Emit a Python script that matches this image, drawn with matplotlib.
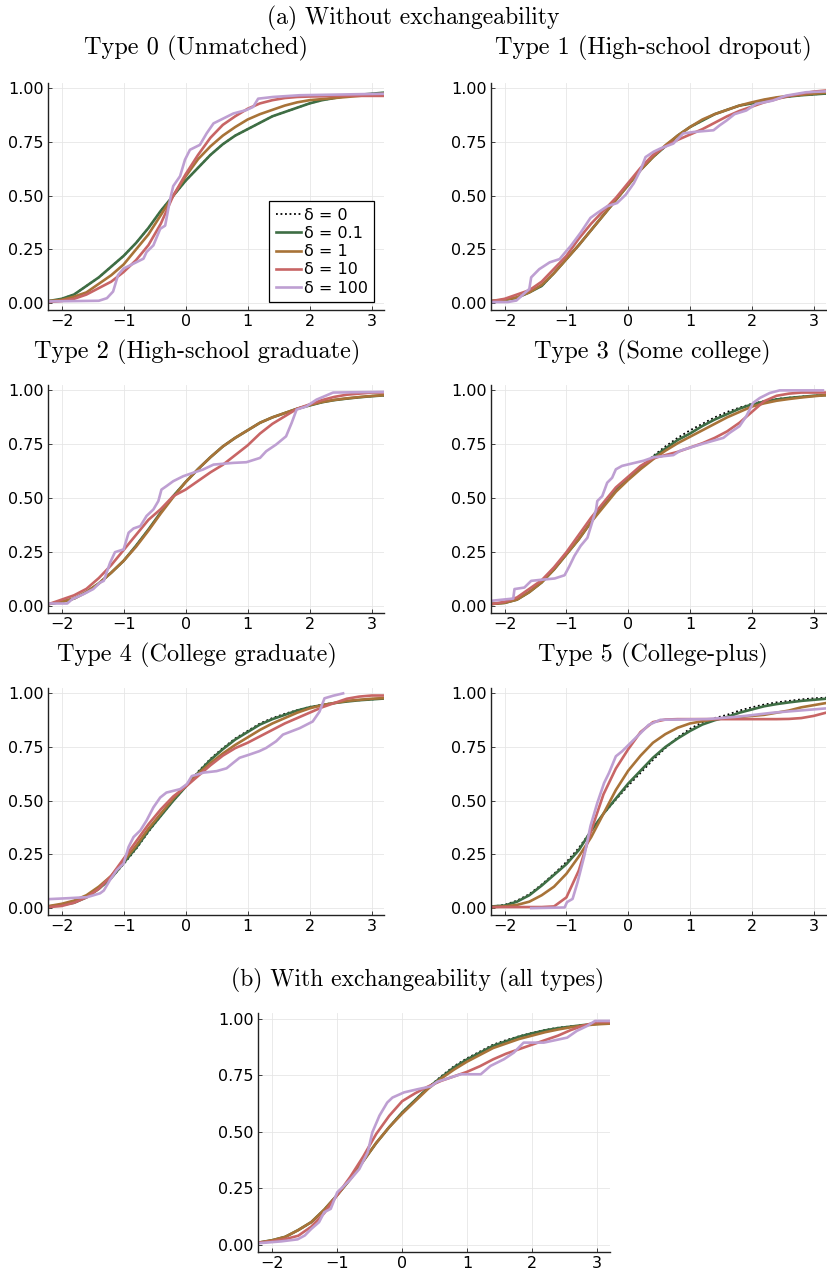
import matplotlib
matplotlib.use("Agg")
import matplotlib.pyplot as plt

# common x grid for the smooth curves
X = [-2.2, -2.0, -1.8, -1.6, -1.4, -1.2, -1.0, -0.8, -0.6, -0.4, -0.2, 0.0, 0.2, 0.4,
     0.6, 0.8, 1.0, 1.2, 1.4, 1.6, 1.8, 2.0, 2.2, 2.4, 2.6, 2.8, 3.0, 3.2]

labels = ["δ = 0", "δ = 0.1", "δ = 1", "δ = 10", "δ = 100"]
colors = ["black", "#3e6e44", "#a87338", "#c86565", "#be9fd2"]

titles = ["Type 0 (Unmatched)", "Type 1 (High-school dropout)",
          "Type 2 (High-school graduate)", "Type 3 (Some college)",
          "Type 4 (College graduate)", "Type 5 (College-plus)"]

# ---- Type 0
t0_d0 = [0.01, 0.02, 0.04, 0.08, 0.12, 0.17, 0.22, 0.28, 0.35, 0.43, 0.50, 0.57, 0.63, 0.69,
         0.74, 0.78, 0.81, 0.84, 0.87, 0.89, 0.91, 0.93, 0.945, 0.955, 0.965, 0.97, 0.975, 0.98]
t0_d01 = [0.01, 0.02, 0.04, 0.08, 0.12, 0.17, 0.22, 0.28, 0.35, 0.43, 0.50, 0.57, 0.63, 0.69,
          0.74, 0.78, 0.81, 0.84, 0.87, 0.89, 0.91, 0.93, 0.945, 0.955, 0.965, 0.97, 0.975, 0.98]
t0_d1 = [0.01, 0.015, 0.03, 0.05, 0.09, 0.13, 0.18, 0.25, 0.32, 0.41, 0.50, 0.59, 0.67, 0.73,
         0.78, 0.82, 0.855, 0.88, 0.90, 0.92, 0.935, 0.945, 0.95, 0.955, 0.96, 0.965, 0.97, 0.975]
t0_d10 = [0.005, 0.01, 0.02, 0.04, 0.07, 0.10, 0.145, 0.20, 0.27, 0.37, 0.50, 0.60, 0.69, 0.77,
          0.83, 0.87, 0.905, 0.93, 0.945, 0.955, 0.96, 0.962, 0.963, 0.965, 0.965, 0.965, 0.965, 0.965]
t0_d100_x = [-2.2, -1.4, -1.27, -1.17, -1.09, -1.0, -0.84, -0.68, -0.63, -0.52, -0.41, -0.33,
             -0.25, -0.2, -0.09, -0.01, 0.07, 0.23, 0.34, 0.45, 0.61, 0.77, 0.98, 1.09, 1.17,
             1.41, 1.84, 3.2]
t0_d100_y = [0.008, 0.011, 0.023, 0.054, 0.131, 0.161, 0.184, 0.207, 0.238, 0.269, 0.346, 0.361,
             0.484, 0.545, 0.591, 0.668, 0.714, 0.737, 0.791, 0.837, 0.860, 0.883, 0.899, 0.914,
             0.952, 0.960, 0.968, 0.975]

# ---- Type 1
t1_d0 = [0.01, 0.015, 0.025, 0.05, 0.08, 0.14, 0.205, 0.27, 0.34, 0.41, 0.48, 0.55, 0.62, 0.68,
         0.73, 0.78, 0.82, 0.85, 0.88, 0.90, 0.92, 0.93, 0.945, 0.955, 0.962, 0.968, 0.972, 0.976]
t1_d01 = [0.01, 0.015, 0.025, 0.05, 0.08, 0.14, 0.205, 0.27, 0.34, 0.41, 0.48, 0.55, 0.62, 0.68,
          0.73, 0.78, 0.82, 0.85, 0.88, 0.90, 0.92, 0.93, 0.945, 0.955, 0.962, 0.968, 0.972, 0.976]
t1_d1 = [0.01, 0.015, 0.027, 0.05, 0.085, 0.14, 0.205, 0.27, 0.34, 0.41, 0.48, 0.55, 0.62, 0.68,
         0.735, 0.78, 0.82, 0.855, 0.88, 0.90, 0.92, 0.935, 0.948, 0.958, 0.965, 0.97, 0.975, 0.98]
t1_d10 = [0.01, 0.02, 0.04, 0.06, 0.10, 0.16, 0.22, 0.30, 0.37, 0.43, 0.49, 0.56, 0.63, 0.69,
          0.73, 0.76, 0.785, 0.81, 0.84, 0.87, 0.895, 0.915, 0.935, 0.95, 0.965, 0.975, 0.985, 0.99]
t1_d100_x = [-2.2, -1.95, -1.81, -1.6, -1.57, -1.44, -1.27, -1.11, -1.0, -0.93, -0.77, -0.61,
             -0.5, -0.34, -0.18, -0.04, 0.09, 0.2, 0.28, 0.41, 0.52, 0.73, 0.89, 1.06, 1.38,
             1.48, 1.59, 1.72, 1.91, 2.07, 2.34, 2.55, 2.88, 3.2]
t1_d100_y = [0.005, 0.005, 0.012, 0.066, 0.12, 0.158, 0.19, 0.205, 0.243, 0.266, 0.328, 0.397,
             0.42, 0.451, 0.466, 0.505, 0.558, 0.62, 0.68, 0.705, 0.72, 0.743, 0.79, 0.797,
             0.805, 0.828, 0.85, 0.88, 0.897, 0.928, 0.943, 0.966, 0.982, 0.986]

# ---- Type 2
t2_d0 = [0.01, 0.02, 0.035, 0.065, 0.105, 0.155, 0.21, 0.28, 0.355, 0.435, 0.51, 0.575, 0.635, 0.69,
         0.74, 0.78, 0.815, 0.85, 0.875, 0.895, 0.915, 0.93, 0.945, 0.955, 0.962, 0.968, 0.973, 0.977]
t2_d01 = [0.01, 0.02, 0.035, 0.065, 0.105, 0.155, 0.21, 0.28, 0.355, 0.435, 0.51, 0.575, 0.635, 0.69,
          0.74, 0.78, 0.815, 0.85, 0.875, 0.895, 0.915, 0.93, 0.945, 0.955, 0.962, 0.968, 0.973, 0.977]
t2_d1 = [0.01, 0.02, 0.035, 0.065, 0.105, 0.155, 0.21, 0.275, 0.35, 0.43, 0.505, 0.575, 0.635, 0.69,
         0.74, 0.78, 0.815, 0.85, 0.875, 0.895, 0.915, 0.932, 0.946, 0.956, 0.963, 0.969, 0.974, 0.978]
t2_d10 = [0.01, 0.03, 0.05, 0.08, 0.13, 0.19, 0.26, 0.33, 0.40, 0.45, 0.51, 0.54, 0.58, 0.62,
          0.655, 0.70, 0.745, 0.80, 0.845, 0.88, 0.915, 0.935, 0.955, 0.97, 0.98, 0.985, 0.99, 0.99]
t2_d100_x = [-2.2, -1.91, -1.83, -1.65, -1.49, -1.38, -1.32, -1.22, -1.14, -1.0, -0.92, -0.84,
             -0.73, -0.63, -0.52, -0.44, -0.39, -0.31, -0.2, -0.04, 0.12, 0.28, 0.45, 0.77,
             0.98, 1.2, 1.3, 1.46, 1.62, 1.71, 1.79, 1.95, 2.11, 2.38, 3.2]
t2_d100_y = [0.012, 0.012, 0.032, 0.055, 0.079, 0.109, 0.117, 0.2, 0.25, 0.263, 0.34, 0.36,
             0.371, 0.418, 0.448, 0.487, 0.54, 0.556, 0.579, 0.602, 0.618, 0.633, 0.656, 0.664,
             0.667, 0.687, 0.718, 0.749, 0.787, 0.849, 0.911, 0.926, 0.957, 0.99, 0.993]

# ---- Type 3
t3_d0 = [0.01, 0.015, 0.03, 0.065, 0.11, 0.17, 0.24, 0.31, 0.39, 0.47, 0.54, 0.59, 0.645, 0.695,
         0.74, 0.78, 0.815, 0.845, 0.875, 0.90, 0.92, 0.938, 0.95, 0.96, 0.966, 0.971, 0.975, 0.978]
t3_d01 = [0.01, 0.015, 0.03, 0.065, 0.11, 0.17, 0.24, 0.31, 0.39, 0.47, 0.54, 0.59, 0.64, 0.69,
          0.73, 0.77, 0.80, 0.835, 0.865, 0.89, 0.915, 0.935, 0.948, 0.958, 0.965, 0.97, 0.975, 0.978]
t3_d1 = [0.01, 0.015, 0.03, 0.065, 0.11, 0.17, 0.24, 0.31, 0.39, 0.46, 0.53, 0.585, 0.635, 0.68,
         0.72, 0.755, 0.785, 0.815, 0.845, 0.875, 0.90, 0.925, 0.94, 0.952, 0.96, 0.967, 0.973, 0.978]
t3_d10 = [0.01, 0.02, 0.04, 0.08, 0.12, 0.18, 0.25, 0.33, 0.41, 0.48, 0.55, 0.60, 0.65, 0.685,
          0.70, 0.715, 0.735, 0.755, 0.78, 0.81, 0.85, 0.90, 0.95, 0.975, 0.985, 0.99, 0.99, 0.99]
t3_d100_x = [-2.2, -1.86, -1.84, -1.68, -1.57, -1.41, -1.19, -1.03, -0.95, -0.87, -0.77, -0.66,
             -0.52, -0.5, -0.42, -0.34, -0.26, -0.2, -0.1, 0.06, 0.25, 0.41, 0.73, 0.84, 1.06,
             1.27, 1.54, 1.64, 1.8, 1.91, 2.02, 2.13, 2.29, 2.45, 3.15]
t3_d100_y = [0.025, 0.035, 0.079, 0.086, 0.117, 0.122, 0.128, 0.143, 0.186, 0.233, 0.279, 0.317,
             0.448, 0.487, 0.51, 0.572, 0.595, 0.634, 0.65, 0.661, 0.674, 0.69, 0.70, 0.72, 0.74,
             0.758, 0.78, 0.803, 0.834, 0.88, 0.942, 0.965, 0.988, 1.0, 1.0]

# ---- Type 4
t4_d0 = [0.008, 0.015, 0.025, 0.05, 0.09, 0.14, 0.205, 0.275, 0.355, 0.43, 0.50, 0.565, 0.635, 0.695,
         0.745, 0.79, 0.825, 0.86, 0.885, 0.905, 0.922, 0.937, 0.947, 0.956, 0.963, 0.968, 0.972, 0.976]
t4_d01 = [0.008, 0.015, 0.025, 0.05, 0.09, 0.14, 0.21, 0.28, 0.36, 0.43, 0.50, 0.565, 0.63, 0.69,
          0.74, 0.785, 0.82, 0.855, 0.88, 0.90, 0.92, 0.935, 0.945, 0.955, 0.962, 0.968, 0.972, 0.976]
t4_d1 = [0.01, 0.02, 0.035, 0.06, 0.10, 0.15, 0.22, 0.29, 0.37, 0.44, 0.51, 0.57, 0.625, 0.675,
         0.72, 0.76, 0.795, 0.83, 0.86, 0.885, 0.91, 0.93, 0.945, 0.955, 0.965, 0.97, 0.975, 0.978]
t4_d10 = [0.005, 0.01, 0.025, 0.05, 0.09, 0.15, 0.23, 0.31, 0.39, 0.46, 0.52, 0.565, 0.615, 0.665,
          0.71, 0.745, 0.77, 0.80, 0.83, 0.86, 0.885, 0.91, 0.935, 0.955, 0.975, 0.985, 0.99, 0.99]
t4_d100_x = [-2.2, -1.91, -1.59, -1.38, -1.32, -1.22, -1.11, -1.0, -0.92, -0.84, -0.73, -0.63,
             -0.52, -0.41, -0.31, -0.09, 0.02, 0.1, 0.29, 0.5, 0.66, 0.77, 0.87, 1.03, 1.19, 1.3,
             1.46, 1.57, 1.84, 2.05, 2.16, 2.24, 2.38, 2.54]
t4_d100_y = [0.042, 0.046, 0.051, 0.069, 0.082, 0.131, 0.177, 0.208, 0.285, 0.331, 0.362, 0.408,
             0.469, 0.515, 0.538, 0.554, 0.577, 0.615, 0.631, 0.638, 0.651, 0.677, 0.70, 0.715,
             0.731, 0.746, 0.777, 0.808, 0.838, 0.869, 0.915, 0.977, 0.989, 1.0]

# ---- Type 5
t5_d0 = [0.008, 0.015, 0.035, 0.065, 0.11, 0.16, 0.215, 0.28, 0.36, 0.44, 0.505, 0.57, 0.63, 0.69,
         0.745, 0.795, 0.835, 0.865, 0.885, 0.90, 0.92, 0.935, 0.948, 0.958, 0.965, 0.972, 0.977, 0.98]
t5_d01 = [0.008, 0.012, 0.03, 0.06, 0.105, 0.155, 0.205, 0.27, 0.36, 0.44, 0.51, 0.58, 0.64, 0.70,
          0.75, 0.79, 0.825, 0.855, 0.875, 0.89, 0.91, 0.925, 0.94, 0.95, 0.958, 0.965, 0.97, 0.975]
t5_d1 = [0.005, 0.008, 0.015, 0.03, 0.06, 0.10, 0.16, 0.24, 0.33, 0.44, 0.55, 0.64, 0.71, 0.77,
         0.81, 0.84, 0.86, 0.87, 0.88, 0.885, 0.89, 0.895, 0.90, 0.91, 0.92, 0.935, 0.945, 0.955]
t5_d10 = [0.005, 0.005, 0.005, 0.005, 0.005, 0.008, 0.05, 0.175, 0.36, 0.53, 0.65, 0.74, 0.82, 0.866,
          0.878, 0.88, 0.88, 0.88, 0.88, 0.88, 0.88, 0.88, 0.88, 0.88, 0.881, 0.885, 0.895, 0.91]
t5_d100_x = [-1.57, -1.03, -0.99, -0.9, -0.82, -0.71, -0.61, -0.5, -0.39, -0.31, -0.2, -0.1,
             0.09, 0.2, 0.33, 0.52, 1.27, 1.8, 2.34, 3.2]
t5_d100_y = [0.0, 0.003, 0.028, 0.043, 0.12, 0.244, 0.383, 0.49, 0.583, 0.63, 0.707, 0.73,
             0.784, 0.815, 0.853, 0.877, 0.88, 0.892, 0.91, 0.93]

# ---- all types, with exchangeability
ex_d0 = [0.01, 0.02, 0.035, 0.065, 0.10, 0.155, 0.22, 0.29, 0.37, 0.45, 0.52, 0.585, 0.64, 0.695,
         0.745, 0.79, 0.825, 0.855, 0.885, 0.905, 0.922, 0.937, 0.95, 0.96, 0.966, 0.972, 0.977, 0.98]
ex_d01 = [0.01, 0.02, 0.035, 0.065, 0.10, 0.155, 0.22, 0.29, 0.37, 0.45, 0.52, 0.585, 0.64, 0.695,
          0.74, 0.785, 0.82, 0.85, 0.88, 0.90, 0.92, 0.935, 0.948, 0.958, 0.965, 0.972, 0.977, 0.98]
ex_d1 = [0.01, 0.02, 0.035, 0.065, 0.10, 0.155, 0.22, 0.29, 0.37, 0.45, 0.52, 0.58, 0.635, 0.69,
         0.735, 0.775, 0.81, 0.84, 0.87, 0.89, 0.91, 0.925, 0.94, 0.952, 0.962, 0.97, 0.975, 0.978]
ex_d10 = [0.01, 0.015, 0.025, 0.04, 0.08, 0.14, 0.22, 0.30, 0.39, 0.49, 0.57, 0.635, 0.67, 0.70,
          0.725, 0.745, 0.765, 0.79, 0.82, 0.845, 0.865, 0.885, 0.905, 0.925, 0.95, 0.97, 0.985, 0.985]
ex_d100_x = [-2.2, -1.86, -1.61, -1.5, -1.4, -1.28, -1.2, -1.1, -1.0, -0.89, -0.79, -0.66, -0.53,
             -0.46, -0.35, -0.23, -0.15, 0.03, 0.24, 0.44, 0.54, 0.75, 0.9, 1.21, 1.36, 1.57,
             1.72, 1.87, 2.18, 2.54, 2.69, 2.85, 2.97, 3.2]
ex_d100_y = [0.007, 0.015, 0.024, 0.041, 0.07, 0.10, 0.144, 0.159, 0.232, 0.262, 0.291, 0.335,
             0.409, 0.497, 0.571, 0.629, 0.651, 0.674, 0.688, 0.70, 0.721, 0.74, 0.754, 0.754,
             0.791, 0.821, 0.85, 0.894, 0.894, 0.916, 0.946, 0.968, 0.99, 0.99]

panels = [
    (t0_d0, t0_d01, t0_d1, t0_d10, t0_d100_x, t0_d100_y),
    (t1_d0, t1_d01, t1_d1, t1_d10, t1_d100_x, t1_d100_y),
    (t2_d0, t2_d01, t2_d1, t2_d10, t2_d100_x, t2_d100_y),
    (t3_d0, t3_d01, t3_d1, t3_d10, t3_d100_x, t3_d100_y),
    (t4_d0, t4_d01, t4_d1, t4_d10, t4_d100_x, t4_d100_y),
    (t5_d0, t5_d01, t5_d1, t5_d10, t5_d100_x, t5_d100_y),
    (ex_d0, ex_d01, ex_d1, ex_d10, ex_d100_x, ex_d100_y),
]

W, H = 827, 1275
fig = plt.figure(figsize=(W / 100, H / 100), dpi=100)


def px_axes(x0, y0, x1, y1):
    # pixel box (left, top, right, bottom) -> figure axes
    return fig.add_axes([x0 / W, 1 - y1 / H, (x1 - x0) / W, (y1 - y0) / H])


def draw(ax, data):
    d0, d01, d1, d10, d100x, d100y = data
    ax.plot(X, d0, color=colors[0], ls=(0, (1, 1.5)), lw=1.3, label=labels[0])
    ax.plot(X, d01, color=colors[1], lw=1.9, label=labels[1])
    ax.plot(X, d1, color=colors[2], lw=1.9, label=labels[2])
    ax.plot(X, d10, color=colors[3], lw=1.9, label=labels[3])
    ax.plot(d100x, d100y, color=colors[4], lw=1.9, label=labels[4])
    ax.set_xlim(-2.22, 3.2)
    ax.set_ylim(-0.032, 1.025)
    ax.set_xticks([-2, -1, 0, 1, 2, 3])
    ax.set_yticks([0, 0.25, 0.5, 0.75, 1.0])
    ax.set_yticklabels(["0.00", "0.25", "0.50", "0.75", "1.00"])
    ax.grid(True, color="#e6e6e6", lw=0.6)
    ax.set_axisbelow(True)
    for s in ["top", "right"]:
        ax.spines[s].set_visible(False)
    for s in ["left", "bottom"]:
        ax.spines[s].set_color("#222222")
        ax.spines[s].set_linewidth(1.0)
    ax.tick_params(direction="in", length=3, width=0.6, labelsize=11.5, pad=3, colors="#222222",
                   labelcolor="black")


boxes = [(48, 83, 384, 310), (491, 83, 826, 310),
         (48, 385, 384, 613), (491, 385, 826, 613),
         (48, 688, 384, 915), (491, 688, 826, 915),
         (258, 1013, 610, 1252)]
title_pos = [(196, 48), (653, 48), (197, 352), (652, 352), (197, 655), (653, 655)]

serif = dict(family="cmr10", fontsize=17.5)

for i, (box, data) in enumerate(zip(boxes, panels)):
    ax = px_axes(*box)
    draw(ax, data)
    if i == 0:
        leg = ax.legend(loc="lower right", bbox_to_anchor=(0.97, 0.035), fontsize=11.5,
                        handlelength=1.6, handletextpad=0.15, labelspacing=0.2,
                        borderpad=0.4, borderaxespad=0, fancybox=False, framealpha=1)
        leg.get_frame().set_edgecolor("black")
        leg.get_frame().set_linewidth(0.9)
    if i < 6:
        tx, ty = title_pos[i]
        fig.text(tx / W, 1 - ty / H, titles[i], ha="center", va="center", **serif)

fig.text(413 / W, 1 - 18 / H, "(a) Without exchangeability", ha="center", va="center",
         family="cmr10", fontsize=17)
fig.text(418 / W, 1 - 980 / H, "(b) With exchangeability (all types)", ha="center",
         va="center", family="cmr10", fontsize=17)

fig.savefig("out.png", dpi=100)
